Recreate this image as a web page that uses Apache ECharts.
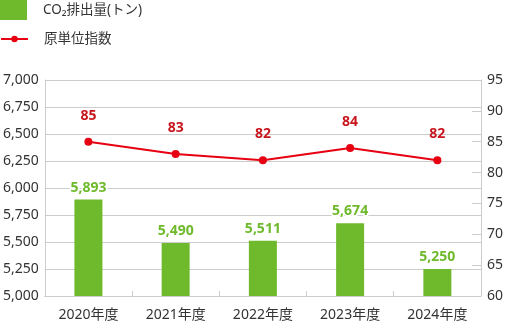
<!DOCTYPE html>
<html><head><meta charset="utf-8">
<script src="https://cdn.jsdelivr.net/npm/echarts@6/dist/echarts.min.js"></script>
<style>html,body{margin:0;padding:0;background:#fff}#c{width:506px;height:330px}</style>
</head><body><div id="c"></div>
<script>
var categories = ['2020年度','2021年度','2022年度','2023年度','2024年度'];
var co2Values = [5893, 5490, 5511, 5674, 5250];
var indexValues = [85, 83, 82, 84, 82];
var seriesNames = ['CO₂排出量(トン)', '原単位指数'];

var FONT = '"Noto Sans","Noto Sans CJK JP",sans-serif';
function comma(v){ return String(v).replace(/\B(?=(\d{3})+(?!\d))/g, ','); }

var chart = echarts.init(document.getElementById('c'), null, {renderer:'canvas'});
chart.setOption({
  animation: false,
  textStyle: {fontFamily: FONT},
  legend: [
    {data:[{name:seriesNames[0], icon:'rect'}], left:0, top:0, padding:0, itemWidth:27, itemHeight:20,
     textStyle:{fontFamily:FONT, fontSize:13.5, color:'#333', padding:[0,0,0,11]}},
    {data:[seriesNames[1]], left:0, top:31, padding:0, itemWidth:27, itemHeight:8,
     textStyle:{fontFamily:FONT, fontSize:13.5, color:'#333', lineHeight:16, padding:[0,0,0,11]}}
  ],
  grid: {left:43, right:23, top:80, bottom:34, containLabel:false},
  xAxis: {
    type:'category', data:categories,
    axisLine:{show:true, lineStyle:{color:'#ccc', width:1}},
    axisTick:{show:true, inside:true, length:5, lineStyle:{color:'#ccc'}},
    axisLabel:{color:'#333', fontSize:14, margin:12, fontFamily:FONT}
  },
  yAxis: [
    {type:'value', min:5000, max:7000, interval:250,
     axisLine:{show:true, lineStyle:{color:'#ccc'}},
     axisTick:{show:false},
     splitLine:{show:true, lineStyle:{color:'#ccc', width:1}},
     axisLabel:{color:'#333', fontSize:14, margin:6, fontFamily:FONT, formatter:function(v){return comma(v);}}},
    {type:'value', min:60, max:95, interval:5, position:'right',
     axisLine:{show:true, lineStyle:{color:'#ccc'}},
     axisTick:{show:true, inside:true, length:9, lineStyle:{color:'#ccc'}},
     splitLine:{show:false},
     axisLabel:{color:'#333', fontSize:14, margin:6, fontFamily:FONT}}
  ],
  series: [
    {name:seriesNames[0], type:'bar', data:co2Values, barWidth:28, yAxisIndex:0,
     itemStyle:{color:'#6fba2c'},
     label:{show:true, position:'top', distance:5, color:'#6fba2c', fontWeight:'bold', fontSize:14,
       fontFamily:FONT, textBorderColor:'#fff', textBorderWidth:3,
       formatter:function(p){return comma(p.value);}}},
    {name:seriesNames[1], type:'line', data:indexValues, yAxisIndex:1,
     symbol:'circle', symbolSize:8,
     itemStyle:{color:'#e60012'}, lineStyle:{color:'#e60012', width:2},
     label:{show:true, position:'top', distance:15, color:'#c8161e', fontWeight:'bold', fontSize:14, fontFamily:FONT}}
  ]
});
</script></body></html>
